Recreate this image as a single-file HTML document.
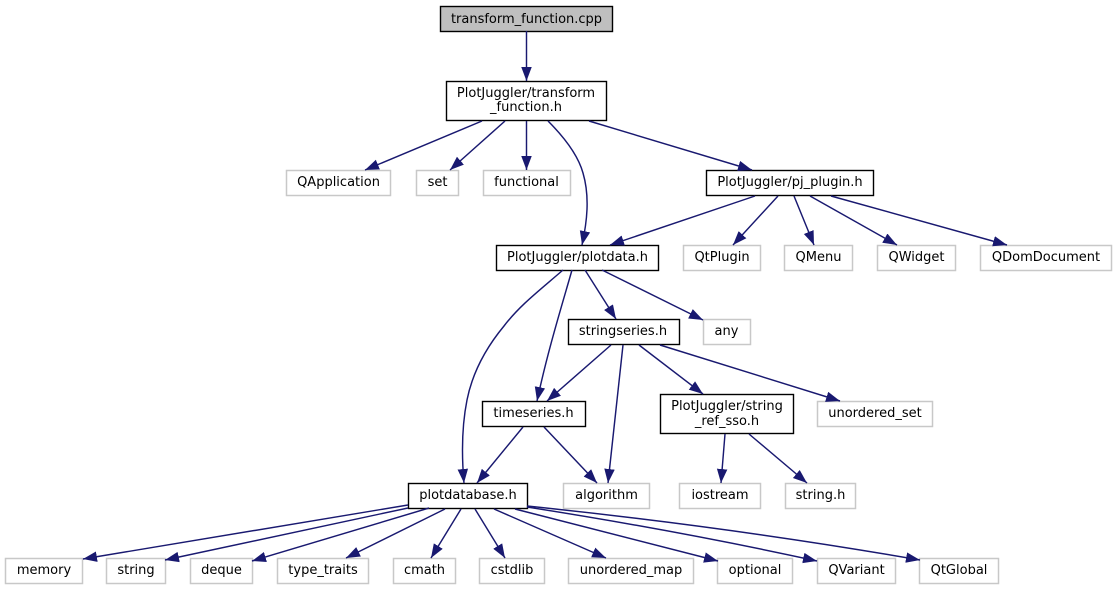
<!DOCTYPE html>
<html><head><meta charset="utf-8"><style>
html,body{margin:0;padding:0;background:#fff}
svg{display:block}
text{font-family:"DejaVu Sans",sans-serif;font-size:13px;text-anchor:middle;fill:#000}
.b{fill:#fff;stroke:#000;stroke-width:1.4}
.g{fill:#fff;stroke:#c8c8c8;stroke-width:1.5}
.e{fill:none;stroke:#191970;stroke-width:1.45;marker-end:url(#a)}
</style></head><body>
<svg xmlns="http://www.w3.org/2000/svg" width="1116" height="589" viewBox="0 0 1116 589">
<defs><marker id="a" markerUnits="userSpaceOnUse" markerWidth="15" markerHeight="11" refX="14" refY="5.25" orient="auto"><path d="M0,0 L14,5.25 L0,10.5 Z" fill="#191970"/></marker></defs>

<rect x="440.5" y="6.5" width="172" height="25" fill="#bfbfbf" stroke="#000" stroke-width="1.4"/><text x="526.5" y="23">transform_function.cpp</text>
<rect class="b" x="446.5" y="81.5" width="160" height="39"/><text x="526" y="97">PlotJuggler/transform</text><text x="526" y="111">_function.h</text>
<rect class="g" x="286.5" y="170.5" width="104" height="25"/><text x="338.5" y="186">QApplication</text>
<rect class="g" x="416.5" y="170.5" width="42" height="25"/><text x="437.5" y="186">set</text>
<rect class="g" x="483.5" y="170.5" width="87" height="25"/><text x="526.5" y="186">functional</text>
<rect class="b" x="706.5" y="170.5" width="167" height="25"/><text x="790" y="186">PlotJuggler/pj_plugin.h</text>
<rect class="b" x="496.5" y="245.5" width="162" height="25"/><text x="577.5" y="261">PlotJuggler/plotdata.h</text>
<rect class="g" x="683.5" y="245.5" width="77" height="25"/><text x="722" y="261">QtPlugin</text>
<rect class="g" x="784.5" y="245.5" width="68" height="25"/><text x="818.5" y="261">QMenu</text>
<rect class="g" x="877.5" y="245.5" width="78" height="25"/><text x="916.5" y="261">QWidget</text>
<rect class="g" x="980.5" y="245.5" width="131" height="25"/><text x="1046" y="261">QDomDocument</text>
<rect class="b" x="568.5" y="319.5" width="111" height="25"/><text x="623" y="335">stringseries.h</text>
<rect class="g" x="703.5" y="319.5" width="47" height="25"/><text x="726.5" y="335">any</text>
<rect class="b" x="482.5" y="401.5" width="103" height="25"/><text x="533.5" y="417">timeseries.h</text>
<rect class="b" x="660.5" y="394.5" width="133" height="39"/><text x="727" y="410">PlotJuggler/string</text><text x="727" y="425">_ref_sso.h</text>
<rect class="g" x="817.5" y="401.5" width="115" height="25"/><text x="875" y="417">unordered_set</text>
<rect class="b" x="408.5" y="483.5" width="119" height="25"/><text x="468" y="499">plotdatabase.h</text>
<rect class="g" x="563.5" y="483.5" width="86" height="25"/><text x="606.5" y="499">algorithm</text>
<rect class="g" x="679.5" y="483.5" width="81" height="25"/><text x="720" y="499">iostream</text>
<rect class="g" x="785.5" y="483.5" width="70" height="25"/><text x="820.5" y="499">string.h</text>
<rect class="g" x="5.5" y="558.5" width="77" height="25"/><text x="44" y="574">memory</text>
<rect class="g" x="106.5" y="558.5" width="59" height="25"/><text x="136" y="574">string</text>
<rect class="g" x="190.5" y="558.5" width="62" height="25"/><text x="221.5" y="574">deque</text>
<rect class="g" x="277.5" y="558.5" width="91" height="25"/><text x="323" y="574">type_traits</text>
<rect class="g" x="393.5" y="558.5" width="62" height="25"/><text x="424.5" y="574">cmath</text>
<rect class="g" x="479.5" y="558.5" width="65" height="25"/><text x="512" y="574">cstdlib</text>
<rect class="g" x="568.5" y="558.5" width="125" height="25"/><text x="631" y="574">unordered_map</text>
<rect class="g" x="717.5" y="558.5" width="75" height="25"/><text x="755" y="574">optional</text>
<rect class="g" x="817.5" y="558.5" width="78" height="25"/><text x="856.5" y="574">QVariant</text>
<rect class="g" x="919.5" y="558.5" width="79" height="25"/><text x="959" y="574">QtGlobal</text>

<path class="e" d="M526.5,31 L526.5,81"/>
<path class="e" d="M482,121 L365,170"/>
<path class="e" d="M505,121 L450,170"/>
<path class="e" d="M526.5,121 L526.5,170"/>
<path class="e" d="M548,121 C565,138 578,155 583,173 C590,197 587,222 582,245"/>
<path class="e" d="M589,121 L752,170"/>
<path class="e" d="M755,196 L610,245"/>
<path class="e" d="M778,196 L733,245"/>
<path class="e" d="M794,196 L814,245"/>
<path class="e" d="M810,196 L897,245"/>
<path class="e" d="M831,196 L1007,245"/>
<path class="e" d="M563,270 C540,290 520,305 504,326 C480,355 471,380 467,400 C461,430 462,460 464,483"/>
<path class="e" d="M572,270 C562,305 548,350 537,401"/>
<path class="e" d="M585,270 L616,319"/>
<path class="e" d="M602,270 L703,320"/>
<path class="e" d="M611,345 L547,401"/>
<path class="e" d="M623,345 L608,483"/>
<path class="e" d="M639,345 L703,394"/>
<path class="e" d="M660,345 L840,401"/>
<path class="e" d="M523,427 L477,483"/>
<path class="e" d="M544,427 L597,483"/>
<path class="e" d="M725,434 L721,483"/>
<path class="e" d="M749,434 L807,483"/>
<path class="e" d="M408,505 L83,559"/>
<path class="e" d="M408,508 L165,560"/>
<path class="e" d="M429,508 L252,561"/>
<path class="e" d="M445,509 L346,558"/>
<path class="e" d="M461,509 L431,558"/>
<path class="e" d="M475,509 L505,558"/>
<path class="e" d="M494,509 L606,558"/>
<path class="e" d="M515,509 L718,561"/>
<path class="e" d="M527,507 Q680,531 817,561"/>
<path class="e" d="M527,506 Q730,527 920,560"/>
</svg>
</body></html>
